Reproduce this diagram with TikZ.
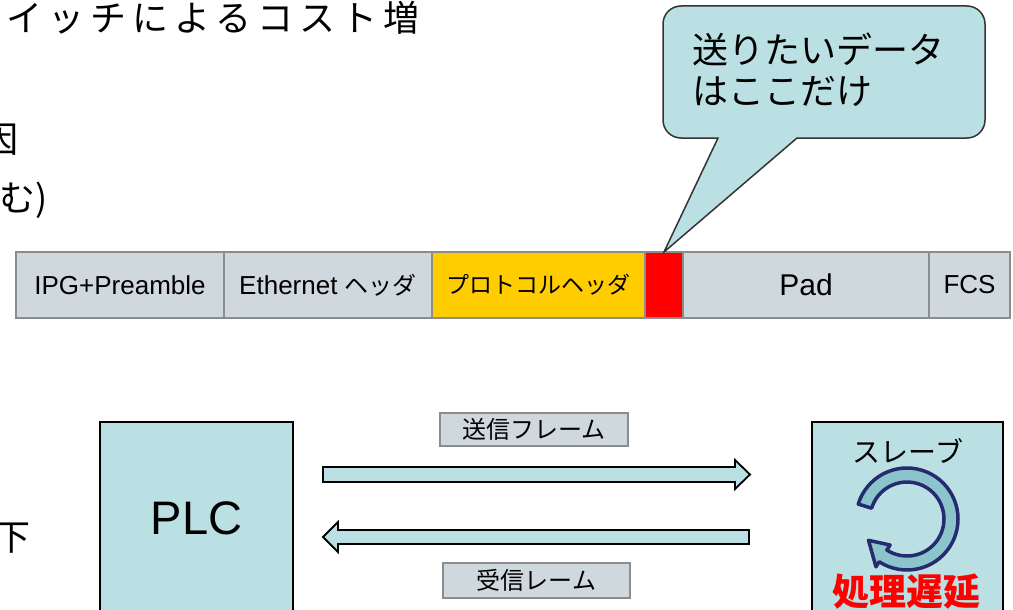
\documentclass[tikz,border=0pt]{standalone}
\usepackage{fontspec}
\setmainfont{Liberation Sans}
\newfontfamily\jp{Noto Sans CJK JP}
\newfontfamily\jpwide{Noto Sans CJK JP}[LetterSpace=16.7]
\usetikzlibrary{calc}
\definecolor{cellgray}{HTML}{CFD8DC}
\definecolor{bordergray}{HTML}{8C8C8C}
\definecolor{hdryellow}{HTML}{FFCC00}
\definecolor{lightteal}{HTML}{BBE0E3}
\definecolor{ringfill}{HTML}{8CC4CC}
\definecolor{ringnavy}{HTML}{262A6E}
\definecolor{calloutline}{HTML}{333333}
\newcommand\setfs[2]{\fontsize{#1}{#2}\selectfont}
\begin{document}
\begin{tikzpicture}[x=1pt,y=-1pt,
  cell/.style={draw=bordergray, line width=1.5pt, fill=cellgray, minimum height=66pt,
    anchor=north west, inner sep=0pt, outer sep=0pt},
  box/.style={draw=black, line width=1.5pt, fill=lightteal, inner sep=0pt},
  lbl/.style={draw=bordergray, line width=1.5pt, fill=cellgray, inner sep=0pt,
    font=\jp\setfs{24}{28}},
  blockarrow/.style={draw=black, line width=1.8pt, fill=lightteal, line join=miter},
  callout/.style={draw=calloutline, line width=1.5pt, fill=lightteal},
  ring/.style={draw=ringnavy, line width=3.5pt, fill=ringfill, line join=round},
  plain/.style={inner sep=0pt, font=\jp\setfs{36}{41}}
]
\useasboundingbox (0,0) rectangle (1013,610);

% left-hand clipped slide text
\node[plain, anchor=west, font=\jpwide\setfs{36}{41}] (topline) at (6,18) {イッチによるコスト増};
\node[plain, anchor=east] (cause) at (19,140) {因};
\node[plain, anchor=east] (incl) at (48,200) {む)};
\node[plain, anchor=east] (low) at (31,538) {下};

% frame bar
\node[cell, minimum width=208pt] (ipg) at (16,252) {\setfs{26}{30}IPG+Preamble};
\node[cell, minimum width=208pt] (eth) at (ipg.north east) {\setfs{26}{30}Ethernet {\jp\setfs{24}{28}ヘッダ}};
\node[cell, fill=hdryellow, minimum width=213pt] (proto) at (eth.north east) {\jp\setfs{23}{28}プロトコルヘッダ};
\node[cell, fill=red, minimum width=38pt] (data) at (proto.north east) {};
\node[cell, minimum width=246pt] (pad) at (data.north east) {\setfs{30}{34}Pad};
\node[cell, minimum width=81pt] (fcs) at (pad.north east) {\setfs{26}{30}FCS};

% callout
\draw[callout] (718,138) [rounded corners=18pt] -- (663,138) -- (663,6) -- (985,6) -- (985,138)
  [sharp corners] -- (797,138) -- (data.north) -- cycle;
\node[plain, anchor=north west, align=left] (calltext) at (692,33) {送りたいデータ\\はここだけ};

% PLC and slave
\node[box, minimum width=193pt, minimum height=192pt] (plc) at (196.5,518) {\setfs{47}{50}PLC};
\node[box, minimum width=191pt, minimum height=192pt] (slave) at (907.5,518) {};
\node[plain, font=\jp\setfs{28}{32}] (slavelbl) at (908,451) {スレーブ};
\begin{scope}[shift={(907,519)}, yscale=-1]
  \filldraw[ring] (163:51) arc[start angle=163, end angle=-123, radius=51]
    -- (-123:57) -- (-151:44) -- (-123:31) -- (-123:37)
    arc[start angle=-123, end angle=163, radius=37] -- cycle;
\end{scope}
\node[plain, font=\jp\bfseries\setfs{37}{40}, text=red] (delay) at (906,592) {処理遅延};

% frame arrows
\coordinate (sendA) at (323,474.5);
\coordinate (sendB) at (750,474.5);
\coordinate (recvA) at (749,537);
\coordinate (recvB) at (323,537);
\draw[blockarrow] ($(sendA)+(0,-7.5)$) -- ($(sendB)+(-15,-7.5)$) -- ($(sendB)+(-15,-14.5)$)
  -- (sendB) -- ($(sendB)+(-15,14.5)$) -- ($(sendB)+(-15,7.5)$) -- ($(sendA)+(0,7.5)$) -- cycle;
\draw[blockarrow] ($(recvA)+(0,-7)$) -- ($(recvB)+(15,-7)$) -- ($(recvB)+(15,-15)$)
  -- (recvB) -- ($(recvB)+(15,15)$) -- ($(recvB)+(15,7)$) -- ($(recvA)+(0,7)$) -- cycle;
\node[lbl, minimum width=188pt, minimum height=33pt] (sendlbl) at (534,429.5) {送信フレーム};
\node[lbl, minimum width=187pt, minimum height=35pt] (recvlbl) at (536.5,580.5) {受信レーム};
\end{tikzpicture}
\end{document}
